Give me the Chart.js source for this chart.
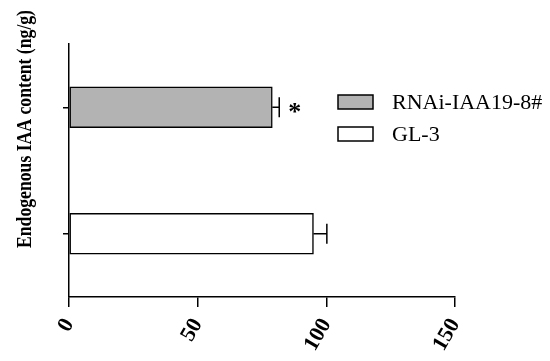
<!DOCTYPE html>
<html>
<head>
<meta charset="utf-8">
<script src="https://cdn.jsdelivr.net/npm/chart.js@4"></script>
<style>
html, body { margin: 0; padding: 0; background: #fff; }
#wrap { width: 550px; height: 361px; }
</style>
</head>
<body>
<div id="wrap"><canvas id="chart"></canvas></div>
<script>
const categories = ["RNAi-IAA19-8#", "GL-3"];
const iaaValues = [79, 95];
const iaaErrors = [2.7, 5.2];
const significance = ["*", ""];
const xTicks = [0, 50, 100, 150];
const barColors = ["#b3b3b3", "#ffffff"];
const yTitle = "Endogenous IAA content (ng/g)";

const serif = "'Liberation Serif', 'Times New Roman', serif";

// error bars, asterisk, legend and axis title
const extras = {
    id: "extras",
    afterDatasetsDraw(chart) {
        const ctx = chart.ctx;
        const xs = chart.scales.x;
        const ys = chart.scales.y;
        ctx.save();
        ctx.strokeStyle = "#000";
        ctx.lineWidth = 1.5;
        iaaValues.forEach((v, i) => {
            const y = ys.getPixelForValue(i);
            const x0 = xs.getPixelForValue(v);
            const x1 = xs.getPixelForValue(v + iaaErrors[i]);
            ctx.beginPath();
            ctx.moveTo(x0, y);
            ctx.lineTo(x1, y);
            ctx.moveTo(x1, y - 10);
            ctx.lineTo(x1, y + 10);
            ctx.stroke();
            if (significance[i]) {
                ctx.fillStyle = "#000";
                ctx.font = "bold 26px " + serif;
                ctx.textAlign = "left";
                ctx.textBaseline = "middle";
                ctx.fillText(significance[i], x1 + 9, y + 6);
            }
        });

        // legend
        ctx.font = "22px " + serif;
        ctx.textAlign = "left";
        ctx.textBaseline = "middle";
        categories.forEach((c, i) => {
            const top = 95 + i * 32;
            ctx.fillStyle = barColors[i];
            ctx.fillRect(338, top, 35, 14);
            ctx.strokeRect(338, top, 35, 14);
            ctx.fillStyle = "#000";
            ctx.fillText(c, 392, top + 8);
        });

        // y axis title, squeezed to the length seen in the figure
        ctx.translate(31, 129);
        ctx.rotate(-Math.PI / 2);
        ctx.font = "bold 22px " + serif;
        ctx.textAlign = "center";
        ctx.textBaseline = "alphabetic";
        const w = ctx.measureText(yTitle).width;
        ctx.scale(238 / w, 1);
        ctx.fillText(yTitle, 0, 0);
        ctx.restore();
    }
};

const ctx = document.getElementById("chart").getContext("2d");
const chart = new Chart(ctx, {
    type: "bar",
    data: {
        labels: categories,
        datasets: [{
            data: iaaValues,
            backgroundColor: barColors,
            borderColor: "#000",
            borderWidth: 1.5,
            borderSkipped: false,
            barThickness: 41
        }]
    },
    options: {
        indexAxis: "y",
        responsive: true,
        maintainAspectRatio: false,
        animation: false,
        layout: { padding: { top: 44, right: 95, left: 0, bottom: 0 } },
        plugins: {
            legend: { display: false },
            tooltip: { enabled: false }
        },
        scales: {
            x: {
                min: 0,
                max: 150,
                afterBuildTicks: s => { s.ticks = xTicks.map(v => ({ value: v })); },
                afterFit: s => { s.height = 64; s.paddingLeft = 0; s.paddingRight = 0; },
                border: { color: "#000", width: 1.5 },
                grid: { display: true, drawOnChartArea: false, drawTicks: true, tickLength: 10, color: "#000", lineWidth: 1.5 },
                ticks: {
                    color: "#000",
                    font: { family: serif, size: 22, weight: "bold" },
                    minRotation: 60,
                    maxRotation: 60,
                    padding: 7
                }
            },
            y: {
                afterFit: s => { s.width = 69; },
                border: { color: "#000", width: 1.5 },
                grid: { display: true, offset: false, drawOnChartArea: false, drawTicks: true, tickLength: 6, color: "#000", lineWidth: 1.5 },
                ticks: { callback: () => "", padding: 0 }
            }
        }
    },
    plugins: [extras]
});
</script>
</body>
</html>
